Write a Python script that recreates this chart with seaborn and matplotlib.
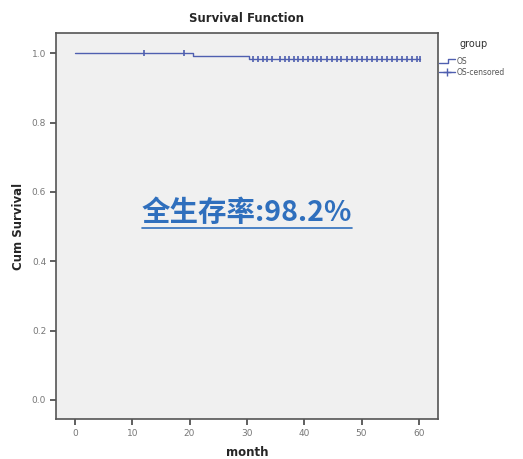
import matplotlib
matplotlib.use("Agg")
import matplotlib.pyplot as plt
from matplotlib.lines import Line2D
from matplotlib.legend_handler import HandlerBase
import seaborn as sns
import pandas as pd

# Kaplan-Meier step curve
step_month = [0, 20.6, 30.4, 60.2]
step_surv = [1.0, 0.992, 0.982, 0.982]

# censored cases
cens_month = [12.0, 19.0, 31.1, 32.0, 32.8, 33.6, 34.3, 35.8, 36.6, 37.4, 38.2,
              39.0, 39.8, 40.7, 41.5, 42.3, 43.0, 43.9, 44.8, 45.7, 46.5, 47.4,
              48.3, 49.2, 50.0, 50.9, 51.8, 52.7, 53.5, 54.4, 55.3, 56.2, 57.0,
              57.9, 58.8, 59.7, 60.2]

x_ticks = [0, 10, 20, 30, 40, 50, 60]
y_ticks = [0.0, 0.2, 0.4, 0.6, 0.8, 1.0]


def surv_at(t):
    s = step_surv[0]
    for m, v in zip(step_month, step_surv):
        if t >= m:
            s = v
    return s


class StepHandler(HandlerBase):
    # little step icon like the SPSS legend
    def create_artists(self, legend, orig, xd, yd, w, h, fs, trans):
        xs = [-xd, -xd + w * 0.5, -xd + w * 0.6, -xd + w]
        ys = [h * 0.25 - yd, h * 0.25 - yd, h * 0.85 - yd, h * 0.85 - yd]
        ln = Line2D(xs, ys, color=orig.get_color(), lw=orig.get_linewidth(),
                    drawstyle="steps-post", transform=trans)
        return [ln]


curve = pd.DataFrame({"month": step_month, "surv": step_surv})
cens = pd.DataFrame({"month": cens_month, "surv": [surv_at(t) for t in cens_month]})

sns.set_style("white")
plt.rcParams["font.family"] = ["DejaVu Sans"]

line_col = "#4f5fb0"
fig = plt.figure(figsize=(5.23, 4.59), dpi=100)
ax = fig.add_axes([0.107, 0.087, 0.730, 0.841])
ax.set_facecolor("#f0f0f0")

sns.lineplot(data=curve, x="month", y="surv", ax=ax, color=line_col, lw=1.0,
             drawstyle="steps-post", estimator=None)
sns.scatterplot(data=cens, x="month", y="surv", ax=ax, marker="|", s=25,
                color=line_col, linewidth=1.2)

ax.set_xlim(-3.3, 63.3)
ax.set_ylim(-0.055, 1.058)
ax.set_xticks(x_ticks)
ax.set_yticks(y_ticks)
ax.set_yticklabels([f"{v:.1f}" for v in y_ticks])
ax.tick_params(axis="both", direction="out", length=4, width=1.2, color="#444444",
               labelsize=6.5, labelcolor="#777777", bottom=True, left=True, pad=3)
for sp in ax.spines.values():
    sp.set_color("#555555")
    sp.set_linewidth(1.2)

ax.set_title("Survival Function", fontsize=8.5, fontweight="bold", pad=8)
ax.set_xlabel("month", fontsize=8.5, fontweight="bold", labelpad=6)
ax.set_ylabel("Cum Survival", fontsize=8.5, fontweight="bold", labelpad=5)

# annotation
txt = ax.text(0.5, 0.535, "全生存率:98.2%", transform=ax.transAxes, ha="center",
              va="center", fontsize=20.5, fontweight="bold", color="#2f6fbd",
              family=["Noto Sans CJK SC", "DejaVu Sans"])
fig.canvas.draw()
bb = txt.get_window_extent()
inv = fig.transFigure.inverted()
(x0, y0), (x1, _) = inv.transform([(bb.x0, bb.y0 - 1), (bb.x1, bb.y0)])
fig.add_artist(Line2D([x0, x1], [y0, y0], transform=fig.transFigure,
                      color="#2f6fbd", lw=1.2))

# legend outside on the right
fig.text(0.906, 0.904, "group", ha="center", va="center", fontsize=7,
         color="#333333")
h_os = Line2D([], [], color=line_col, lw=1.0)
h_cens = Line2D([], [], color=line_col, lw=1.0, marker="+", markersize=6)
leg = fig.legend([h_os, h_cens], ["OS", "OS-censored"], loc="upper left",
                 bbox_to_anchor=(0.840, 0.876), frameon=False, fontsize=5.5,
                 handlelength=2.0, handletextpad=0.2, labelspacing=0.25,
                 borderaxespad=0, borderpad=0,
                 handler_map={h_os: StepHandler()})
for t in leg.get_texts():
    t.set_color("#555555")

fig.savefig("out.png", dpi=100)
